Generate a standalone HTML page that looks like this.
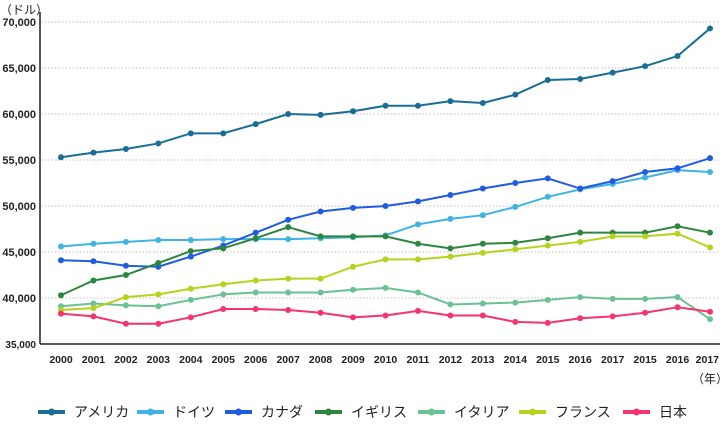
<!DOCTYPE html>
<html><head><meta charset="utf-8"><style>
body{margin:0;background:#fff;}
svg text{font-family:"Liberation Sans","Noto Sans CJK JP",sans-serif;fill:#222;}
</style></head><body>
<svg id="c" width="720" height="420" xmlns="http://www.w3.org/2000/svg">
<text x="0" y="14" font-size="12">（ドル）</text>
<line x1="40" y1="12" x2="40" y2="344" stroke="#222" stroke-width="1.5"/>
<line x1="40" y1="344" x2="720" y2="344" stroke="#222" stroke-width="1.5"/>
<text x="692" y="383" font-size="12">（年）</text>
</svg>
<script>
const s=document.getElementById('c'),NS='http://www.w3.org/2000/svg';
function el(t,a,txt){const e=document.createElementNS(NS,t);for(const k in a)e.setAttribute(k,a[k]);if(txt)e.textContent=txt;s.appendChild(e);return e;}
const Y=v=>22+(70000-v)/1000*9.2, X=i=>61+i*32.45;
for(let v=35000;v<=70000;v+=5000){
 if(v>35000)el('line',{x1:41,x2:720,y1:Y(v),y2:Y(v),stroke:'#aaa','stroke-dasharray':'1.5,2','stroke-width':0.8});
 el('text',{x:36,y:Y(v)+4,'font-size':v==35000?10:11,'font-weight':'bold','text-anchor':'end'},v.toLocaleString('en-US'));
}
const yrs=[2000,2001,2002,2003,2004,2005,2006,2007,2008,2009,2010,2011,2012,2013,2014,2015,2016,2017,2015,2016,2017];
yrs.forEach((y,i)=>{ if(i==20) el('text',{x:719,y:363,'font-size':10.5,'font-weight':'bold','text-anchor':'end'},y);
 else el('text',{x:X(i),y:363,'font-size':10.5,'font-weight':'bold','text-anchor':'middle'},y);});
const D=[
['#1a6d96','アメリカ',[55300,55800,56200,56800,57900,57900,58900,60000,59900,60300,60900,60900,61400,61200,62100,63700,63800,64500,65200,66300,69300]],
['#3fb3e3','ドイツ',[45600,45900,46100,46300,46300,46400,46400,46400,46500,46600,46800,48000,48600,49000,49900,51000,51800,52400,53100,53900,53700]],
['#1f5ce0','カナダ',[44100,44000,43500,43400,44500,45700,47100,48500,49400,49800,50000,50500,51200,51900,52500,53000,51900,52700,53700,54100,55200]],
['#2e8540','イギリス',[40300,41900,42500,43800,45100,45400,46500,47700,46700,46700,46700,45900,45400,45900,46000,46500,47100,47100,47100,47800,47100]],
['#6cc194','イタリア',[39100,39400,39200,39100,39800,40400,40600,40600,40600,40900,41100,40600,39300,39400,39500,39800,40100,39900,39900,40100,37700]],
['#b5d31c','フランス',[38700,38900,40100,40400,41000,41500,41900,42100,42100,43400,44200,44200,44500,44900,45300,45700,46100,46700,46700,47000,45500]],
['#f5346f','日本',[38300,38000,37200,37200,37900,38800,38800,38700,38400,37900,38100,38600,38100,38100,37400,37300,37800,38000,38400,39000,38500]]];
D.forEach(([c,n,d])=>{
 el('polyline',{points:d.map((v,i)=>X(i)+','+Y(v)).join(' '),fill:'none',stroke:c,'stroke-width':2});
 d.forEach((v,i)=>el('circle',{cx:X(i),cy:Y(v),r:3,fill:c}));
});
const lx=[38,137,225,315,418,519,623];
D.forEach(([c,n],i)=>{
 el('line',{x1:lx[i],x2:lx[i]+27,y1:412,y2:412,stroke:c,'stroke-width':4});
 el('circle',{cx:lx[i]+13.5,cy:412,r:3.5,fill:c});
 el('text',{x:lx[i]+36,y:417,'font-size':14},n);
});
</script>
</body></html>
